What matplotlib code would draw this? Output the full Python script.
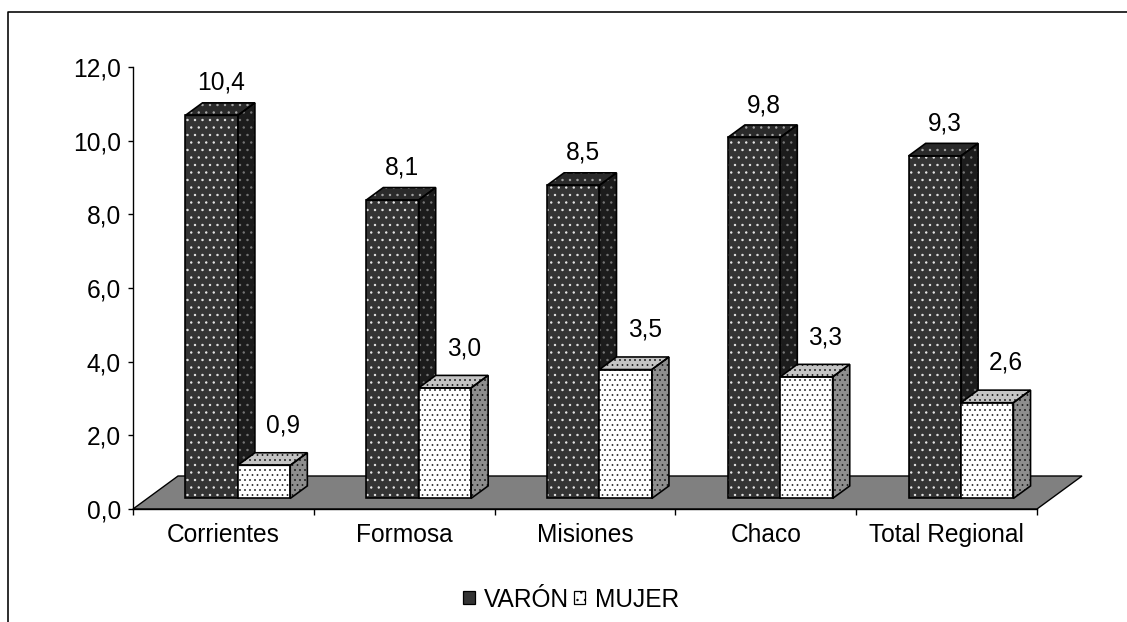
import matplotlib
matplotlib.use("Agg")
import matplotlib.pyplot as plt
from matplotlib.patches import Polygon, Patch
from matplotlib.lines import Line2D
import numpy as np

# ---- data -----------------------------------------------------------------
categories = ["Corrientes", "Formosa", "Misiones", "Chaco", "Total Regional"]
varon = [10.4, 8.1, 8.5, 9.8, 9.3]
mujer = [0.9, 3.0, 3.5, 3.3, 2.6]
series_names = ["VARÓN", "MUJER"]
y_ticks = [0, 2, 4, 6, 8, 10, 12]

# ---- figure ---------------------------------------------------------------
DPI = 90
W, H = 1127, 622
plt.rcParams["font.family"] = ["Liberation Sans", "DejaVu Sans"]
plt.rcParams["hatch.linewidth"] = 0.7
PX = 72 / DPI                      # points per pixel
FS = 24.5 * PX

fig = plt.figure(figsize=(W / DPI, H / DPI), dpi=DPI)
fig.patch.set_facecolor("white")
ax = fig.add_axes([133 / W, (H - 509) / H, 904 / W, 442 / H])
ax.set_xlim(0, len(categories))
ax.set_ylim(0, 12)
ax.patch.set_visible(False)

# oblique projection used for the depth of floor and bars (data units)
floor_dx, floor_dy = 0.249, 0.896
front_frac, depth_frac = 0.32, 0.38
ox, oy = floor_dx * front_frac, floor_dy * front_frac
bdx, bdy = floor_dx * depth_frac, floor_dy * depth_frac
bw = 0.29
n = len(categories)

# floor
ax.add_patch(Polygon([(0, 0), (n, 0), (n + floor_dx, floor_dy), (floor_dx, floor_dy)],
                     closed=True, facecolor="#808080", edgecolor="black",
                     linewidth=1.1, zorder=1, clip_on=False))


def textured(poly, face, dots, hatch, zo):
    ax.add_patch(Polygon(poly, closed=True, facecolor=face, edgecolor=dots,
                         linewidth=0, hatch=hatch, zorder=zo, clip_on=False))
    ax.add_patch(Polygon(poly, closed=True, fill=False, edgecolor="black",
                         linewidth=1.3, zorder=zo + 0.01, clip_on=False,
                         joinstyle="miter"))


def draw_series(left, vals, front, top, side, hatch, zo):
    ax.bar(left, vals, bw, bottom=oy, align="edge", color=front[0],
           edgecolor=front[1], linewidth=0, hatch=hatch, zorder=zo, clip_on=False)
    ax.bar(left, vals, bw, bottom=oy, align="edge", fill=False,
           edgecolor="black", linewidth=1.3, zorder=zo + 0.02, clip_on=False)
    for l, v in zip(left, vals):
        t = v + oy
        textured([(l, t), (l + bw, t), (l + bw + bdx, t + bdy), (l + bdx, t + bdy)],
                 top[0], top[1], hatch, zo + 0.005)
        textured([(l + bw, oy), (l + bw + bdx, oy + bdy), (l + bw + bdx, t + bdy),
                  (l + bw, t)], side[0], side[1], hatch, zo + 0.005)


idx = np.arange(n)
left_v = idx + 0.5 - bw + ox
left_m = idx + 0.5 + ox

draw_series(left_v, varon, ("#343434", "#e6e6e6"), ("#2a2a2a", "#a8a8a8"),
            ("#1c1c1c", "#777777"), "..", 3)
draw_series(left_m, mujer, ("white", "#303030"), ("#c4c4c4", "#202020"),
            ("#8e8e8e", "#202020"), "...", 4)


def fmt(v):
    return f"{v:.1f}".replace(".", ",")


for l, v in zip(left_v, varon):
    ax.text(l + bw / 2 + 0.055, v + oy + 0.88, fmt(v), ha="center", va="center",
            fontsize=FS, clip_on=False, zorder=6)
for l, v in zip(left_m, mujer):
    ax.text(l + bw / 2 + 0.105, v + oy + 1.08, fmt(v), ha="center", va="center",
            fontsize=FS, clip_on=False, zorder=6)

# axes
for s in ("top", "right"):
    ax.spines[s].set_visible(False)
for s in ("left", "bottom"):
    ax.spines[s].set_color("black")
    ax.spines[s].set_linewidth(1.1)
    ax.spines[s].set_zorder(2)

ax.set_yticks(y_ticks)
ax.set_yticklabels([fmt(t) for t in y_ticks])
ax.tick_params(axis="y", length=5 * PX, width=1.1, pad=7 * PX, labelsize=FS,
               colors="black")
ax.set_xticks(np.arange(n + 1))
ax.set_xticklabels([])
ax.tick_params(axis="x", which="major", length=6 * PX, width=1.1)
ax.set_xticks(idx + 0.5, minor=True)
ax.set_xticklabels(categories, minor=True)
ax.tick_params(axis="x", which="minor", length=0, pad=14 * PX, labelsize=FS)

# legend
handles = [Patch(facecolor="#343434", edgecolor="black", linewidth=1.0),
           Patch(facecolor="white", edgecolor="black", linewidth=1.0, hatch="..")]
fig.legend(handles, series_names, loc="center", bbox_to_anchor=(0.507, 0.036),
           ncol=2, frameon=False, fontsize=FS, handlelength=0.45,
           handleheight=0.45, handletextpad=0.4, columnspacing=0.2,
           borderpad=0)

# chart area border
fig.add_artist(Line2D([8 / W, 8 / W, 1.0], [0.0, 1 - 12 / H, 1 - 12 / H],
                      transform=fig.transFigure, color="black", linewidth=1.6 * PX))

fig.savefig("out.png", dpi=DPI)
